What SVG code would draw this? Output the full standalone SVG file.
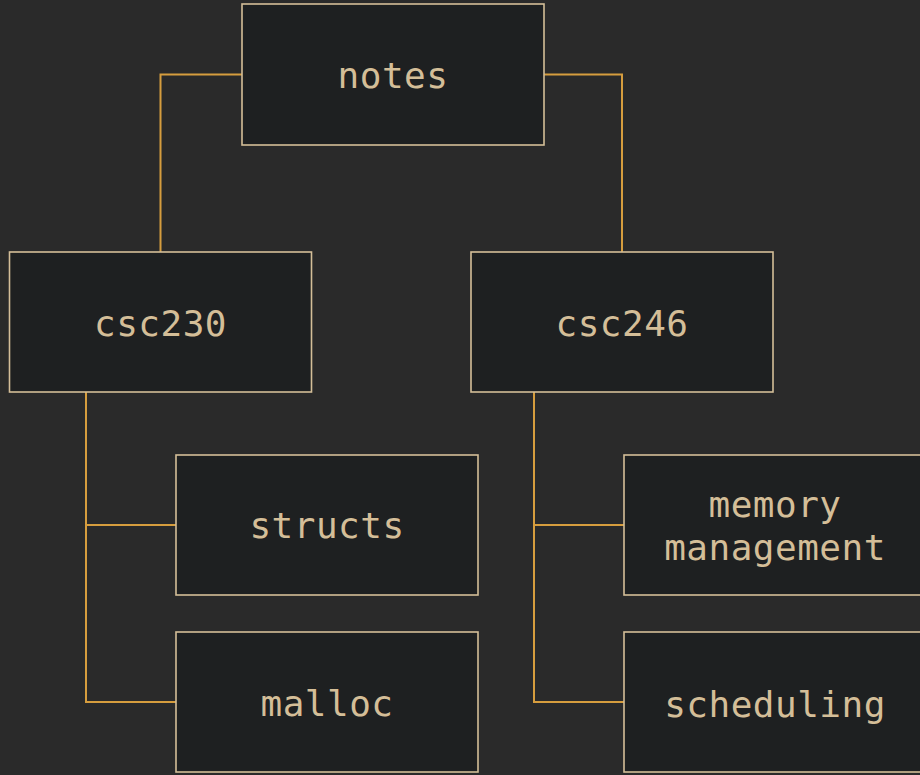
<svg xmlns="http://www.w3.org/2000/svg" width="920" height="775" viewBox="0 0 920 775">
  <style>
    .box { fill: #1e2021; stroke: #d4be98; stroke-width: 1.6; }
    .label { fill: #d4be98; font-family: "DejaVu Sans Mono", "Liberation Mono", monospace; font-size: 36px; letter-spacing: 0.5px; text-anchor: middle; }
    .link { fill: none; stroke: #d69d3e; stroke-width: 2; }
  </style>
  <rect width="920" height="775" fill="#2a2a2a"/>

  <g id="connectors">
    <path class="link" d="M242 74.5 H160.5 V252"/>
    <path class="link" d="M544 74.5 H622 V252"/>
    <path class="link" d="M86 392 V702 H176 M86 525 H176"/>
    <path class="link" d="M534 392 V702 H624 M534 525 H624"/>
  </g>

  <g id="notes">
    <rect class="box" x="242" y="4" width="302" height="141"/>
    <text class="label" x="393" y="88">notes</text>
  </g>
  <g id="csc230">
    <rect class="box" x="9.5" y="252" width="302" height="140"/>
    <text class="label" x="160.5" y="336">csc230</text>
  </g>
  <g id="csc246">
    <rect class="box" x="471" y="252" width="302" height="140"/>
    <text class="label" x="622" y="336">csc246</text>
  </g>
  <g id="structs">
    <rect class="box" x="176" y="455" width="302" height="140"/>
    <text class="label" x="327" y="538">structs</text>
  </g>
  <g id="malloc">
    <rect class="box" x="176" y="632" width="302" height="140"/>
    <text class="label" x="327" y="716">malloc</text>
  </g>
  <g id="memory-management">
    <rect class="box" x="624" y="455" width="302" height="140"/>
    <text class="label" x="775" y="517">memory</text>
    <text class="label" x="775" y="560">management</text>
  </g>
  <g id="scheduling">
    <rect class="box" x="624" y="632" width="302" height="140"/>
    <text class="label" x="775" y="717">scheduling</text>
  </g>
</svg>
